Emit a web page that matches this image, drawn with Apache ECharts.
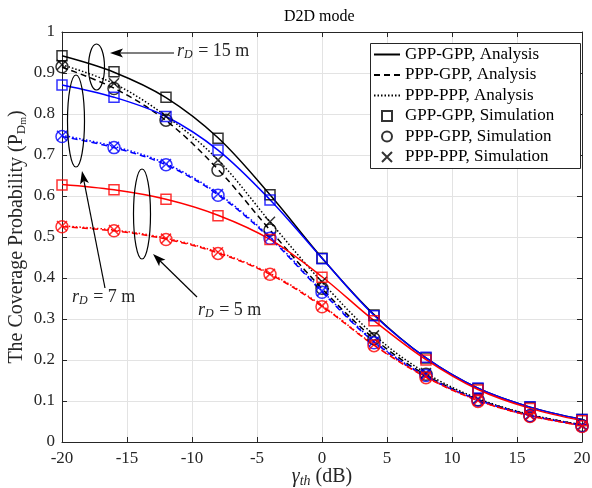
<!DOCTYPE html>
<html>
<head>
<meta charset="utf-8">
<script src="https://cdn.jsdelivr.net/npm/echarts@6/dist/echarts.min.js"></script>
<style>
  html, body { margin: 0; padding: 0; background: #fff; }
  #chart { width: 592px; height: 488px; }
</style>
</head>
<body>
<div id="chart"></div>
<script>
// SINR threshold (dB)
const gamma = [-20, -16, -12, -8, -4, 0, 4, 8, 12, 16, 20]
const xTickLabels = ['-20', '-15', '-10', '-5', '0', '5', '10', '15', '20']
const yTickLabels = ['0', '0.1', '0.2', '0.3', '0.4', '0.5', '0.6', '0.7', '0.8', '0.9', '1']

// r_D = 15 m
const ggAna15 = [0.942, 0.902, 0.840, 0.742, 0.603, 0.449, 0.311, 0.205, 0.131, 0.085, 0.055]
const pgAna15 = [0.914, 0.863, 0.784, 0.665, 0.517, 0.374, 0.252, 0.163, 0.104, 0.066, 0.042]
const ppAna15 = [0.920, 0.874, 0.795, 0.688, 0.537, 0.390, 0.261, 0.168, 0.106, 0.067, 0.042]
const ggSim15 = [0.942, 0.903, 0.841, 0.741, 0.603, 0.448, 0.310, 0.205, 0.130, 0.085, 0.055]
const pgSim15 = [0.915, 0.862, 0.785, 0.663, 0.517, 0.375, 0.252, 0.165, 0.103, 0.064, 0.040]
const ppSim15 = [0.920, 0.875, 0.794, 0.688, 0.537, 0.391, 0.260, 0.168, 0.105, 0.066, 0.041]

// r_D = 7 m
const ggAna7 = [0.871, 0.841, 0.794, 0.712, 0.591, 0.448, 0.309, 0.205, 0.131, 0.085, 0.055]
const pgAna7 = [0.745, 0.718, 0.676, 0.603, 0.497, 0.366, 0.244, 0.160, 0.103, 0.065, 0.041]
const ppAna7 = [0.748, 0.721, 0.679, 0.606, 0.500, 0.369, 0.246, 0.161, 0.103, 0.065, 0.041]
const ggSim7 = [0.871, 0.841, 0.794, 0.712, 0.590, 0.447, 0.308, 0.207, 0.132, 0.086, 0.055]
const pgSim7 = [0.745, 0.718, 0.676, 0.602, 0.497, 0.365, 0.242, 0.162, 0.102, 0.064, 0.039]
const ppSim7 = [0.747, 0.720, 0.678, 0.605, 0.500, 0.368, 0.245, 0.165, 0.104, 0.066, 0.040]

// r_D = 5 m
const ggAna5 = [0.628, 0.615, 0.592, 0.553, 0.494, 0.403, 0.296, 0.201, 0.128, 0.082, 0.052]
const pgAna5 = [0.525, 0.515, 0.495, 0.461, 0.409, 0.331, 0.236, 0.158, 0.101, 0.064, 0.040]
const ppAna5 = [0.527, 0.517, 0.497, 0.463, 0.411, 0.333, 0.237, 0.159, 0.101, 0.064, 0.040]
const ggSim5 = [0.627, 0.615, 0.592, 0.552, 0.494, 0.402, 0.296, 0.200, 0.127, 0.082, 0.052]
const pgSim5 = [0.525, 0.515, 0.494, 0.460, 0.409, 0.330, 0.235, 0.157, 0.099, 0.062, 0.038]
const ppSim5 = [0.527, 0.517, 0.496, 0.463, 0.410, 0.332, 0.238, 0.160, 0.101, 0.064, 0.039]

const legendNames = [
  'GPP-GPP, Analysis', 'PPP-GPP, Analysis', 'PPP-PPP, Analysis',
  'GPP-GPP, Simulation', 'PPP-GPP, Simulation', 'PPP-PPP, Simulation'
]

const FONT = 'Liberation Serif'
const crossPath = 'path://M0,0L10,10M10,0L0,10'
const squarePath = 'path://M0,0L10,0L10,10L0,10Z'
const dashTypes = ['solid', [6, 4], [1.5, 2]]
const markers = [
  { symbol: squarePath, size: 10 },
  { symbol: 'circle', size: 12 },
  { symbol: crossPath, size: 10 }
]

function pairs (ys) {
  return gamma.map((x, i) => [x, ys[i]])
}

function lineSeries (name, ys, color, k) {
  return {
    name: name,
    type: 'line',
    data: pairs(ys),
    smooth: 0.35,
    symbol: 'none',
    silent: true,
    z: 2,
    lineStyle: { color: color, width: 1.5, type: dashTypes[k] }
  }
}

function simSeries (name, ys, color, k) {
  return {
    name: name,
    type: 'scatter',
    data: pairs(ys),
    symbol: markers[k].symbol,
    symbolSize: markers[k].size,
    silent: true,
    z: 3,
    itemStyle: { color: 'transparent', borderColor: color, borderWidth: 1.5 }
  }
}

const groups = [
  { color: '#000000', ana: [ggAna15, pgAna15, ppAna15], sim: [ggSim15, pgSim15, ppSim15] },
  { color: '#0000ff', ana: [ggAna7, pgAna7, ppAna7], sim: [ggSim7, pgSim7, ppSim7] },
  { color: '#ff0000', ana: [ggAna5, pgAna5, ppAna5], sim: [ggSim5, pgSim5, ppSim5] }
]

const series = []
groups.forEach((g, gi) => {
  for (let k = 0; k < 3; k++) {
    series.push(lineSeries('ana' + gi + k, g.ana[k], g.color, k))
    series.push(simSeries('sim' + gi + k, g.sim[k], g.color, k))
  }
})
// legend entries (black, no data)
for (let k = 0; k < 3; k++) {
  series.push({
    name: legendNames[k],
    type: 'line',
    data: [],
    symbol: 'none',
    lineStyle: { color: '#000', width: 1.5, type: dashTypes[k] },
    itemStyle: { color: '#000', opacity: 0 }
  })
}
for (let k = 0; k < 3; k++) {
  series.push({
    name: legendNames[k + 3],
    type: 'scatter',
    data: [],
    symbol: markers[k].symbol,
    itemStyle: { color: 'transparent', borderColor: '#000', borderWidth: 1.5 }
  })
}

const legendData = legendNames.map((n, i) => {
  if (i < 3) return { name: n, itemStyle: { opacity: 0 } }
  return { name: n }
})

// arrow: line from (x1,y1) to tip (x2,y2) with a filled head
function arrow (x1, y1, x2, y2) {
  const dx = x2 - x1
  const dy = y2 - y1
  const len = Math.sqrt(dx * dx + dy * dy)
  const ux = dx / len
  const uy = dy / len
  const hl = 13
  const hw = 4.5
  const bx = x2 - ux * hl
  const by = y2 - uy * hl
  const nx = x2 - ux * (hl - 3)
  const ny = y2 - uy * (hl - 3)
  return [
    {
      type: 'line',
      shape: { x1: x1, y1: y1, x2: nx, y2: ny },
      style: { stroke: '#000', lineWidth: 1.2 },
      z: 10
    },
    {
      type: 'polygon',
      shape: {
        points: [[x2, y2], [bx - uy * hw, by + ux * hw], [nx, ny], [bx + uy * hw, by - ux * hw]]
      },
      style: { fill: '#000' },
      z: 10
    }
  ]
}

function ellipse (cx, cy, rx, ry) {
  return {
    type: 'ellipse',
    shape: { cx: cx, cy: cy, rx: rx, ry: ry },
    style: { fill: 'none', stroke: '#000', lineWidth: 1.2 },
    z: 10
  }
}

function label (x, y, value) {
  return {
    type: 'text',
    x: x,
    y: y,
    z: 10,
    style: {
      text: '{i|r}{s|D}{n| = ' + value + ' m}',
      verticalAlign: 'middle',
      rich: {
        i: { fontFamily: FONT, fontStyle: 'italic', fontSize: 18, fill: '#262626' },
        s: { fontFamily: FONT, fontStyle: 'italic', fontSize: 12, fill: '#262626', verticalAlign: 'bottom', padding: [8, 1, 0, 0] },
        n: { fontFamily: FONT, fontSize: 18, fill: '#262626' }
      }
    }
  }
}

const graphics = [
  {
    type: 'rect',
    shape: { x: 370.5, y: 43.5, width: 210, height: 125 },
    style: { fill: '#fff', stroke: '#262626', lineWidth: 1 },
    z: 5
  },
  ellipse(96.5, 67, 8, 23),
  ellipse(76, 121, 8.5, 46),
  ellipse(142, 214, 8.5, 45),
  label(177, 51, '15'),
  label(72, 297, '7'),
  label(198, 310, '5')
]
  .concat(arrow(174, 53, 110, 53))
  .concat(arrow(105, 288, 82, 171))
  .concat(arrow(197, 297, 153, 254))

const axisColor = '#262626'
const myChart = echarts.init(document.getElementById('chart'))

myChart.setOption({
  animation: false,
  backgroundColor: '#fff',
  title: {
    text: 'D2D mode',
    left: 279,
    top: 4,
    textStyle: { fontFamily: FONT, fontSize: 16, fontWeight: 'normal', color: '#000' }
  },
  grid: { left: 62, right: 10, top: 32, bottom: 46, outerBoundsMode: 'none', containLabel: false },
  legend: {
    orient: 'vertical',
    left: 373,
    top: 46,
    padding: 0,
    z: 6,
    itemWidth: 26,
    itemHeight: 10,
    itemGap: 3.5,
    data: legendData,
    selectedMode: false,
    textStyle: { fontFamily: FONT, fontSize: 17, color: '#000' }
  },
  xAxis: [
    {
      type: 'value',
      min: -20,
      max: 20,
      interval: 5,
      position: 'bottom',
      name: '{g|γ}{s|th}{n| (dB)}',
      nameLocation: 'middle',
      nameGap: 24,
      nameMoveOverlap: false,
      nameTextStyle: {
        rich: {
          g: { fontFamily: FONT, fontStyle: 'italic', fontSize: 20, color: axisColor },
          s: { fontFamily: FONT, fontStyle: 'italic', fontSize: 14, color: axisColor, verticalAlign: 'bottom', padding: [8, 0, 0, 0] },
          n: { fontFamily: FONT, fontSize: 20, color: axisColor }
        }
      },
      axisLine: { onZero: false, lineStyle: { color: axisColor, width: 1 } },
      axisTick: { inside: true, length: 5, lineStyle: { color: axisColor } },
      axisLabel: {
        color: axisColor,
        fontFamily: FONT,
        fontSize: 17,
        margin: 8,
        formatter: v => xTickLabels[Math.round((v + 20) / 5)]
      },
      splitLine: { show: true, lineStyle: { color: '#e3e3e3', width: 1 } }
    },
    {
      type: 'value',
      min: -20,
      max: 20,
      interval: 5,
      position: 'top',
      axisLine: { onZero: false, lineStyle: { color: axisColor, width: 1 } },
      axisTick: { inside: true, length: 5, lineStyle: { color: axisColor } },
      axisLabel: { show: false },
      splitLine: { show: false }
    }
  ],
  yAxis: [
    {
      type: 'value',
      min: 0,
      max: 1,
      interval: 0.1,
      position: 'left',
      name: '{n|The Coverage Probability (P}{s|D}{ss|m}{n|)}',
      nameLocation: 'middle',
      nameGap: 34,
      nameMoveOverlap: false,
      nameTextStyle: {
        rich: {
          n: { fontFamily: FONT, fontSize: 20, color: axisColor },
          s: { fontFamily: FONT, fontSize: 13, color: axisColor, verticalAlign: 'bottom', padding: [8, 0, 0, 0] },
          ss: { fontFamily: FONT, fontSize: 10, color: axisColor, verticalAlign: 'bottom', padding: [13, 0, 0, 0] }
        }
      },
      axisLine: { show: true, onZero: false, lineStyle: { color: axisColor, width: 1 } },
      axisTick: { show: true, inside: true, length: 5, lineStyle: { color: axisColor } },
      axisLabel: {
        color: axisColor,
        fontFamily: FONT,
        fontSize: 17,
        margin: 7,
        formatter: v => yTickLabels[Math.round(v * 10)]
      },
      splitLine: { show: true, lineStyle: { color: '#e3e3e3', width: 1 } }
    },
    {
      type: 'value',
      min: 0,
      max: 1,
      interval: 0.1,
      position: 'right',
      axisLine: { show: true, onZero: false, lineStyle: { color: axisColor, width: 1 } },
      axisTick: { show: true, inside: true, length: 5, lineStyle: { color: axisColor } },
      axisLabel: { show: false },
      splitLine: { show: false }
    }
  ],
  graphic: graphics,
  series: series
})
</script>
</body>
</html>
